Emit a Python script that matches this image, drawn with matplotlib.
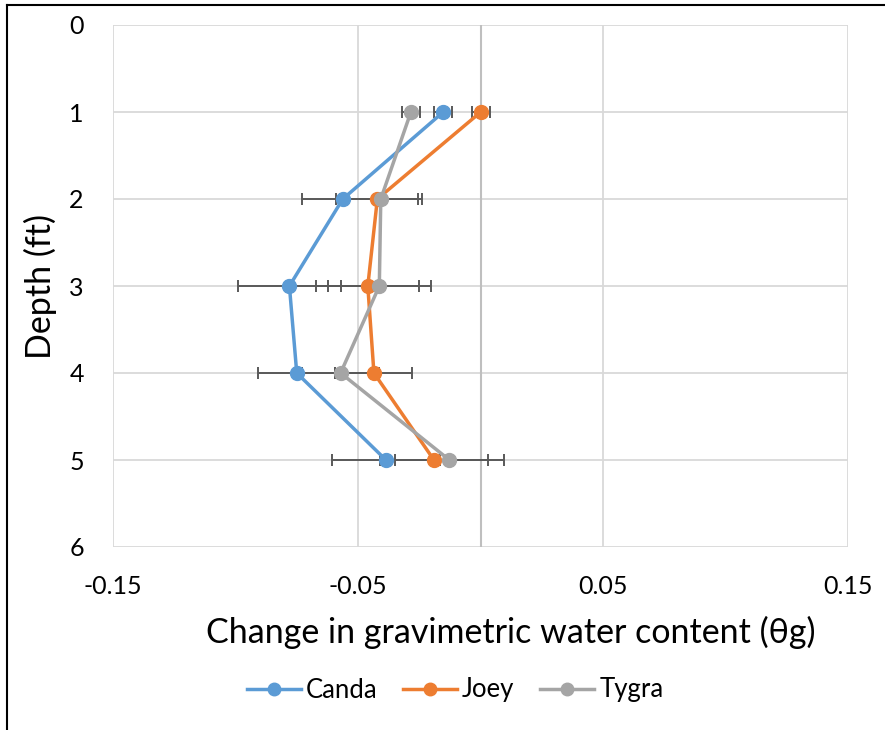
import matplotlib
matplotlib.use("Agg")
import matplotlib.pyplot as plt
from matplotlib.lines import Line2D

plt.rcParams['font.family'] = ['Lato', 'DejaVu Sans']

depth = [1, 2, 3, 4, 5]
canda = [-0.0152, -0.0562, -0.0780, -0.0750, -0.0386]
joey = [0.0001, -0.0421, -0.0460, -0.0435, -0.0190]
tygra = [-0.0284, -0.0407, -0.0413, -0.0571, -0.0127]
err = [0.0037, 0.0167, 0.0210, 0.0157, 0.0222]
series_names = ["Canda", "Joey", "Tygra"]
colors = ["#5B9BD5", "#ED7D31", "#A5A5A5"]
xticks = [-0.15, -0.05, 0.05, 0.15]
xticklabels = ["-0.15", "-0.05", "0.05", "0.15"]
yticks = [0, 1, 2, 3, 4, 5, 6]

fig = plt.figure(figsize=(8.85, 7.3), dpi=100)
ax = fig.add_axes([113/885, 1-547/730, (848-113)/885, (547-25)/730])

for s in ax.spines.values():
    s.set_visible(False)

ax.set_xlim(-0.15, 0.15)
ax.set_ylim(6, 0)
ax.set_xticks(xticks)
ax.set_xticklabels(xticklabels)
ax.set_yticks(yticks)
ax.tick_params(axis='both', length=0, labelsize=18, colors='black')
ax.tick_params(axis='y', pad=21)
ax.tick_params(axis='x', pad=20)
ax.grid(True, color='#D9D9D9', linewidth=1.3)
ax.set_axisbelow(True)
ax.axvline(0, color='#BFBFBF', linewidth=1.5, zorder=1)

data = [canda, joey, tygra]
for vals, c in zip(data, colors):
    ax.errorbar(vals, depth, xerr=err, fmt='none', ecolor='#595959',
                elinewidth=1.4, capsize=4.5, capthick=1.4, zorder=2)
for i, (vals, c) in enumerate(zip(data, colors)):
    ax.plot(vals, depth, color=c, linewidth=2.5, marker='o', markersize=10,
            zorder=3 + i, clip_on=False)

fig.text(40/885, 1-286/730, "Depth (ft)", rotation=90, ha='center', va='center', fontsize=24.5)
fig.text(511/885, 1-632/730, "Change in gravimetric water content (θg)", ha='center', va='center', fontsize=24.5)

handles = [Line2D([0], [0], color=c, linewidth=2.5, marker='o', markersize=9) for c in colors]
fig.legend(handles, series_names, loc='center', bbox_to_anchor=(455/885, 1-690/730),
           ncol=3, frameon=False, fontsize=18.5, handlelength=2.1, handletextpad=0.2,
           columnspacing=1.0)

# chart outer border (partially visible)
fig.add_artist(Line2D([7/885, 1], [1-5/730, 1-5/730], color='black', linewidth=1.5, transform=fig.transFigure))
fig.add_artist(Line2D([7/885, 7/885], [0, 1-5/730], color='black', linewidth=1.5, transform=fig.transFigure))

fig.savefig("out.png", dpi=100)
